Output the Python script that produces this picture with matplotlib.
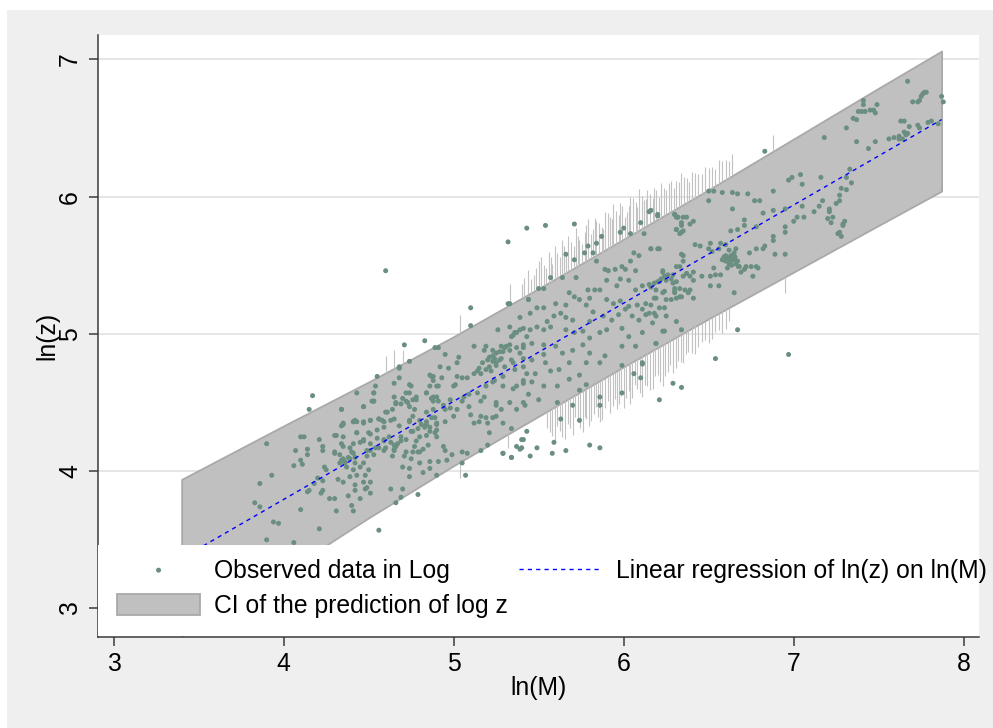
import numpy as np
import matplotlib.pyplot as plt
from matplotlib.patches import Rectangle

plt.rcParams['font.family'] = ['Liberation Sans', 'DejaVu Sans']

# observed points (ln M, ln z)
obs_left = [
    (4.17, 4.55), (4.15, 4.45), (3.90, 4.20), (3.93, 3.97), (3.86, 3.91), (3.83, 3.77), (3.86, 3.74), (3.94, 3.63),
    (3.97, 3.62), (3.90, 3.50), (4.06, 3.48), (4.21, 3.58), (4.10, 3.72), (4.07, 4.15), (4.10, 4.25), (4.12, 4.25),
    (4.14, 4.16), (4.14, 4.12), (4.10, 4.08), (4.11, 4.05), (4.06, 4.04), (4.21, 4.23), (4.23, 4.18), (4.23, 4.15),
    (4.24, 4.03), (4.25, 4.01), (4.20, 3.95), (4.23, 3.93), (4.18, 3.91), (4.14, 3.85), (4.15, 3.86), (4.23, 3.86),
    (4.22, 3.84), (4.27, 3.80), (4.30, 3.80), (4.31, 3.71), (4.34, 4.45), (4.34, 4.33), (4.35, 4.35), (4.41, 4.36),
    (4.43, 4.36), (4.47, 4.36), (4.51, 4.37), (4.43, 4.57), (4.47, 4.47), (4.53, 4.51), (4.53, 4.57), (4.54, 4.62),
    (4.56, 4.38), (4.31, 4.26), (4.35, 4.25), (4.34, 4.20), (4.43, 4.28), (4.50, 4.28), (4.47, 4.23), (4.45, 4.21),
    (4.51, 4.20), (4.30, 4.14), (4.33, 4.12), (4.39, 4.17), (4.41, 4.13), (4.42, 4.10), (4.38, 4.10), (4.35, 4.09),
    (4.33, 4.06), (4.36, 4.07), (4.37, 4.03), (4.41, 4.01), (4.45, 4.03), (4.47, 4.06), (4.49, 4.11), (4.53, 4.12),
    (4.56, 4.17), (4.51, 4.15), (4.50, 4.01), (4.48, 3.97), (4.43, 3.97), (4.39, 3.96), (4.32, 3.94), (4.35, 3.92),
    (4.42, 3.90), (4.47, 3.92), (4.51, 3.92), (4.49, 3.88), (4.51, 3.84), (4.48, 3.87), (4.42, 3.86), (4.45, 3.80),
    (4.38, 3.82), (4.40, 3.75), (4.41, 3.71), (4.56, 3.57),
]

obs_mid_left = [
    (4.71, 4.92), (4.83, 4.95), (4.74, 4.80), (4.68, 4.76), (4.68, 4.68), (4.65, 4.64), (4.74, 4.63), (4.87, 4.69),
    (4.79, 3.83), (4.66, 3.77), (4.63, 3.87), (4.70, 3.87), (4.69, 3.81), (4.74, 3.96), (4.70, 4.03), (4.74, 4.02),
    (4.71, 4.11), (4.79, 4.14), (4.82, 3.99), (4.86, 4.02), (4.90, 3.97), (4.75, 4.09), (4.72, 4.14), (4.65, 4.16),
    (4.63, 4.21), (4.66, 4.18), (4.67, 4.20), (4.59, 4.23), (4.60, 4.17), (4.69, 4.25), (4.76, 4.29), (4.79, 4.31),
    (4.83, 4.32), (4.86, 4.32), (4.74, 4.37), (4.76, 4.40), (4.80, 4.37), (4.84, 4.43), (4.88, 4.45), (4.77, 4.45),
    (4.74, 4.47), (4.73, 4.50), (4.76, 4.52), (4.78, 4.54), (4.70, 4.53), (4.66, 4.50), (4.72, 4.57), (4.84, 4.57),
    (4.87, 4.53), (4.88, 4.51), (4.90, 4.54), (4.86, 4.70), (4.88, 4.66), (4.91, 4.62), (4.87, 4.39), (4.90, 4.34),
    (4.89, 4.28), (4.84, 4.26), (4.80, 4.25), (4.85, 4.19), (4.90, 4.25), (4.86, 4.07), (4.80, 4.06), (4.82, 4.16),
    (4.77, 4.18), (4.52, 4.51), (4.61, 4.43), (4.63, 4.37), (4.58, 4.37), (4.59, 4.32), (4.55, 4.30),
]

obs_mid = [
    (4.60, 5.46), (5.10, 5.19), (5.10, 5.06), (5.33, 5.22), (5.44, 5.25), (4.55, 4.69), (4.68, 4.75), (4.89, 4.90),
    (4.91, 4.90), (4.95, 4.85), (5.12, 4.91), (5.18, 4.88), (5.19, 4.91), (5.23, 4.88), (5.25, 4.86), (5.21, 4.83),
    (5.24, 4.82), (5.27, 4.81), (5.23, 4.80), (5.20, 4.81), (5.17, 4.79), (5.15, 4.75), (5.12, 4.71), (5.14, 4.73),
    (5.16, 4.71), (5.19, 4.74), (5.21, 4.76), (5.25, 4.77), (5.29, 4.87), (5.30, 4.90), (5.33, 4.92), (5.37, 4.90),
    (5.41, 4.90), (5.36, 5.01), (5.39, 5.03), (5.41, 5.04), (5.35, 4.99), (5.26, 5.03), (5.28, 4.91), (5.34, 4.81),
    (5.41, 4.82), (5.36, 4.74), (5.43, 4.71), (5.41, 4.66), (5.37, 4.62), (5.29, 4.69), (5.24, 4.66), (5.19, 4.62),
    (5.18, 4.54), (5.25, 4.48), (5.28, 4.45), (5.25, 4.40), (5.23, 4.39), (5.20, 4.35), (5.19, 4.39), (5.16, 4.40),
    (5.15, 4.36), (5.10, 4.41), (5.09, 4.47), (5.14, 4.57), (5.08, 4.68), (5.05, 4.68), (5.02, 4.69), (5.01, 4.63),
    (5.00, 4.62), (5.03, 4.83), (5.02, 4.79), (4.97, 4.75), (4.92, 4.76), (4.88, 4.69), (4.93, 4.68), (4.90, 4.62),
    (4.86, 4.62), (4.84, 4.57), (4.88, 4.54), (4.91, 4.51), (4.94, 4.48), (4.95, 4.45), (4.98, 4.46), (5.02, 4.45),
    (5.00, 4.40), (5.05, 4.51), (4.98, 4.52), (4.87, 4.53), (4.75, 4.62), (4.74, 4.57), (4.78, 4.52), (4.72, 4.51),
    (4.69, 4.49), (4.66, 4.49), (4.64, 4.45), (4.65, 4.54), (4.53, 4.57), (4.47, 4.47), (4.53, 4.51), (4.60, 4.43),
    (4.34, 4.45), (4.30, 4.26), (4.35, 4.34), (4.41, 4.36), (4.42, 4.37), (4.47, 4.35), (4.51, 4.37), (4.56, 4.38),
    (4.59, 4.36), (4.65, 4.38), (4.68, 4.33), (4.74, 4.36), (4.75, 4.29), (4.81, 4.34), (4.84, 4.36), (4.90, 4.35),
    (4.86, 4.29), (4.90, 4.30), (4.89, 4.39), (4.95, 4.36), (4.43, 4.28), (4.51, 4.27), (4.55, 4.24), (4.62, 4.25),
    (4.59, 4.22), (4.65, 4.19), (4.65, 4.15), (4.69, 4.22), (4.72, 4.23), (4.78, 4.22), (4.76, 4.14), (4.80, 4.14),
    (4.64, 4.11), (4.47, 4.22), (4.41, 4.20), (4.35, 4.18), (4.40, 4.14), (4.30, 4.13), (4.34, 4.08), (4.39, 4.09),
    (4.42, 4.06), (4.36, 4.06), (4.49, 4.15), (4.54, 4.17), (4.59, 4.15), (4.94, 4.18), (4.95, 4.15), (4.99, 4.12),
    (5.05, 4.14), (5.08, 4.13), (4.96, 4.08), (4.91, 4.07), (4.84, 4.34), (5.12, 4.35), (5.21, 4.28), (5.29, 4.35),
    (5.34, 4.31), (5.37, 4.45), (5.42, 4.48), (5.44, 4.56), (5.43, 4.29), (5.40, 4.23), (5.40, 4.17), (5.45, 4.11),
    (5.34, 4.10), (5.29, 4.13), (5.20, 4.19), (5.16, 4.15), (5.06, 4.54), (5.09, 4.56), (5.16, 4.51),
]

obs_mid_right = [
    (5.32, 5.67), (5.43, 5.77), (5.54, 5.79), (5.71, 5.80), (5.32, 5.22), (5.57, 5.41), (5.50, 5.33), (6.15, 5.89),
    (6.20, 5.86), (6.30, 5.87), (6.32, 5.85), (6.34, 5.81), (6.10, 5.81), (5.98, 5.74), (6.00, 5.77), (6.04, 5.73),
    (6.12, 5.73), (6.31, 5.76), (6.34, 5.74), (5.87, 5.71), (5.79, 5.64), (5.84, 5.66), (5.82, 5.59), (5.77, 5.59),
    (5.66, 5.58), (6.16, 5.62), (6.20, 5.62), (6.06, 5.59), (6.09, 5.57), (6.34, 5.58), (5.71, 5.54), (5.84, 5.53),
    (5.89, 5.47), (5.91, 5.46), (5.95, 5.47), (5.99, 5.49), (6.04, 5.53), (6.07, 5.46), (6.23, 5.46), (6.29, 5.43),
    (6.35, 5.53), (6.37, 5.44), (6.01, 5.47), (5.79, 5.32), (5.64, 5.41), (5.72, 5.41), (5.53, 5.33), (5.90, 5.39),
    (5.98, 5.40), (6.03, 5.39), (6.11, 5.35), (6.15, 5.36), (6.21, 5.38), (6.25, 5.39), (6.31, 5.38), (6.36, 5.32),
    (6.30, 5.31), (5.68, 5.30), (5.71, 5.27), (5.74, 5.25), (5.86, 5.32), (5.83, 5.32), (5.96, 5.35), (6.07, 5.32),
    (5.44, 5.25), (5.80, 5.26), (5.78, 5.21), (5.66, 5.21), (5.60, 5.22), (5.53, 5.19), (5.49, 5.19), (5.90, 5.25),
    (5.94, 5.22), (5.98, 5.24), (6.03, 5.20), (6.08, 5.21), (6.13, 5.22), (6.19, 5.26), (6.23, 5.30), (6.28, 5.25),
    (6.33, 5.27), (6.38, 5.30), (6.11, 5.18), (6.15, 5.15), (6.21, 5.19), (5.63, 5.15), (5.66, 5.12), (5.70, 5.10),
    (5.59, 5.13), (5.55, 5.09), (5.45, 5.15), (5.39, 5.12), (5.82, 5.16), (5.88, 5.13), (5.93, 5.10), (5.97, 5.14),
    (6.01, 5.18), (6.05, 5.13), (6.09, 5.10), (6.13, 5.14), (6.17, 5.08), (6.25, 5.13), (6.31, 5.09), (5.80, 5.09),
    (5.57, 5.05), (5.53, 5.03), (5.49, 5.05), (5.45, 5.03), (5.43, 4.98), (5.37, 5.01), (5.34, 4.98), (5.33, 5.05),
    (5.66, 5.03), (5.71, 5.01), (5.76, 5.02), (5.86, 5.01), (5.80, 4.97), (5.90, 5.03), (5.99, 5.04), (6.03, 4.98),
    (6.11, 5.01), (6.23, 5.02), (6.34, 5.03), (5.31, 4.91), (5.27, 4.87), (5.23, 4.84), (5.28, 4.82), (5.33, 4.88),
    (5.41, 4.92), (5.46, 4.93), (5.53, 4.92), (5.60, 4.91), (5.64, 4.86), (5.70, 4.88), (5.76, 4.92), (5.80, 4.86),
    (5.89, 4.84), (5.99, 4.91), (6.07, 4.91), (6.19, 4.93), (5.53, 4.85), (5.39, 4.86), (5.22, 4.73), (5.25, 4.79),
    (5.30, 4.76), (5.35, 4.79), (5.41, 4.76), (5.46, 4.81), (5.48, 4.71), (5.54, 4.79), (5.62, 4.74), (5.68, 4.79),
    (5.78, 4.79), (5.86, 4.79), (5.99, 4.77), (6.06, 4.71), (6.11, 4.79), (5.74, 4.70), (5.57, 4.73), (5.23, 4.65),
    (5.29, 4.62), (5.35, 4.60), (5.41, 4.64), (5.46, 4.65), (5.53, 4.62), (5.61, 4.62), (5.68, 4.67), (5.74, 4.59),
    (5.78, 4.63), (5.86, 4.54), (5.99, 4.57), (6.21, 4.52), (6.29, 4.64), (6.34, 4.61), (5.25, 4.50), (5.33, 4.50),
    (5.41, 4.50), (5.50, 4.52), (5.61, 4.50), (5.70, 4.48), (5.86, 4.48), (6.10, 4.68), (5.80, 4.19), (5.86, 4.17),
    (5.66, 4.15), (5.58, 4.13), (5.59, 4.21), (5.74, 4.37), (5.63, 4.38), (5.49, 4.17), (5.37, 4.18), (5.39, 4.16),
    (5.34, 4.10), (5.29, 4.13), (5.41, 4.23), (5.07, 3.97), (5.05, 4.06), (6.11, 4.78),
]

obs_right = [
    (6.83, 6.33), (6.97, 6.12), (6.99, 6.14), (7.04, 6.16), (7.05, 6.09), (6.88, 6.04), (6.50, 6.04), (6.53, 6.04),
    (6.58, 6.03), (6.64, 6.03), (6.67, 6.02), (6.73, 6.02), (6.50, 5.97), (6.77, 5.97), (6.80, 5.97), (6.64, 5.91),
    (6.82, 5.88), (6.88, 5.90), (6.95, 5.91), (7.02, 5.85), (7.00, 5.82), (6.30, 5.87), (6.31, 5.85), (6.35, 5.85),
    (6.37, 5.85), (6.41, 5.82), (6.39, 5.80), (6.34, 5.79), (6.31, 5.76), (6.33, 5.73), (6.35, 5.75), (6.20, 5.87),
    (6.16, 5.90), (6.71, 5.83), (6.71, 5.79), (6.63, 5.75), (6.67, 5.76), (6.78, 5.78), (6.88, 5.71), (6.88, 5.68),
    (6.95, 5.78), (6.95, 5.74), (6.42, 5.65), (6.45, 5.64), (6.51, 5.66), (6.50, 5.62), (6.52, 5.60), (6.57, 5.66),
    (6.56, 5.62), (6.60, 5.65), (6.62, 5.61), (6.66, 5.62), (6.78, 5.62), (6.82, 5.62), (6.83, 5.64), (6.74, 5.59),
    (6.89, 5.58), (6.95, 5.58), (6.59, 5.56), (6.61, 5.55), (6.63, 5.57), (6.65, 5.54), (6.67, 5.53), (6.60, 5.53),
    (6.62, 5.51), (6.635, 5.50), (6.655, 5.56), (6.58, 5.54), (6.675, 5.49), (6.61, 5.48), (6.63, 5.53), (6.65, 5.59),
    (6.64, 5.55), (6.62, 5.545), (6.60, 5.57), (6.66, 5.51), (6.68, 5.49), (6.69, 5.45), (6.71, 5.47), (6.72, 5.49),
    (6.75, 5.49), (6.78, 5.49), (6.79, 5.48), (6.76, 5.42), (6.53, 5.48), (6.54, 5.43), (6.57, 5.43), (6.51, 5.42),
    (6.46, 5.42), (6.41, 5.45), (6.41, 5.39), (6.37, 5.44), (6.35, 5.42), (6.39, 5.42), (6.31, 5.49), (6.35, 5.57),
    (6.33, 5.49), (6.16, 5.62), (6.21, 5.62), (6.23, 5.45), (6.24, 5.42), (6.22, 5.40), (6.20, 5.38), (6.18, 5.37),
    (6.26, 5.43), (6.28, 5.40), (6.29, 5.37), (6.16, 5.34), (6.19, 5.32), (6.24, 5.31), (6.30, 5.33), (6.33, 5.33),
    (6.39, 5.32), (6.41, 5.26), (6.34, 5.27), (6.30, 5.30), (6.18, 5.26), (6.25, 5.25), (6.31, 5.26), (6.51, 5.35),
    (6.56, 5.35), (6.65, 5.30), (6.16, 5.21), (6.18, 5.15), (6.19, 5.13), (6.24, 5.19), (6.24, 5.02), (6.67, 5.03),
    (6.19, 4.93), (6.54, 4.82), (6.97, 4.85),
]

obs_top = [
    (7.67, 6.84), (7.77, 6.76), (7.76, 6.75), (7.75, 6.73), (7.74, 6.70), (7.73, 6.69), (7.70, 6.69), (7.78, 6.76),
    (7.87, 6.73), (7.88, 6.69), (7.41, 6.70), (7.41, 6.67), (7.49, 6.67), (7.38, 6.62), (7.40, 6.62), (7.42, 6.62),
    (7.45, 6.63), (7.47, 6.63), (7.48, 6.61), (7.35, 6.57), (7.37, 6.56), (7.31, 6.50), (7.18, 6.43), (7.37, 6.40),
    (7.48, 6.40), (7.44, 6.35), (7.56, 6.42), (7.59, 6.43), (7.62, 6.42), (7.64, 6.42), (7.65, 6.47), (7.66, 6.45),
    (7.67, 6.46), (7.63, 6.55), (7.65, 6.55), (7.62, 6.44), (7.68, 6.51), (7.73, 6.52), (7.74, 6.50), (7.79, 6.54),
    (7.81, 6.55), (7.85, 6.53), (7.33, 6.20), (7.16, 6.14), (7.31, 6.14), (7.31, 6.05), (7.34, 6.10), (7.28, 6.06),
    (7.27, 6.01), (7.27, 5.97), (7.25, 5.95), (7.17, 5.97), (7.15, 5.93), (7.12, 5.89), (7.06, 5.85), (7.05, 5.93),
    (7.21, 5.91), (7.21, 5.89), (7.20, 5.84), (7.23, 5.85), (7.22, 5.81), (7.30, 5.82), (7.29, 5.80), (7.29, 5.79),
    (7.27, 5.74), (7.26, 5.73), (7.28, 5.71),
]

# fitted line and prediction band
reg_x = [3.40, 7.87]
reg_y = [3.365, 6.561]
ci_x = [3.40, 4.00, 4.50, 5.00, 5.50, 6.00, 6.50, 7.00, 7.50, 7.87]
ci_upper = [3.94, 4.33, 4.65, 4.98, 5.33, 5.69, 6.05, 6.42, 6.79, 7.06]
ci_lower = [2.80, 3.26, 3.66, 4.04, 4.40, 4.76, 5.11, 5.45, 5.79, 6.04]

# ragged streaks on the band edges (position, length beyond the edge)
spike_up_x = [4.60, 4.65, 4.70, 5.04, 5.33, 5.40, 5.44, 5.47, 5.50, 5.53, 5.56, 5.58, 5.61, 5.64, 5.66, 5.69,
              5.72, 5.74, 5.77, 5.79, 5.82, 5.84, 5.87, 5.89, 5.92, 5.94, 5.97, 5.99, 6.02, 6.04, 6.07, 6.09,
              6.12, 6.14, 6.17, 6.19, 6.22, 6.25, 6.28, 6.31, 6.34, 6.37, 6.40, 6.44, 6.48, 6.52, 6.56, 6.60,
              6.64, 6.88,
              5.415, 5.455, 5.485, 5.515, 5.545, 5.57, 5.595, 5.625, 5.65, 5.675, 5.705, 5.73, 5.755, 5.78,
              5.805, 5.83, 5.855, 5.88, 5.905, 5.93, 5.955, 5.98, 6.005, 6.03, 6.055, 6.08, 6.105, 6.13,
              6.155, 6.18, 6.205, 6.235, 6.265, 6.295, 6.325, 6.355, 6.385, 6.42, 6.46, 6.50, 6.54, 6.58,
              6.62]
spike_up_h = [0.12, 0.13, 0.10, 0.13, 0.15, 0.10, 0.18, 0.12, 0.20, 0.15, 0.22, 0.12, 0.18, 0.25, 0.15, 0.20,
              0.28, 0.18, 0.22, 0.30, 0.20, 0.25, 0.18, 0.28, 0.22, 0.30, 0.20, 0.25, 0.18, 0.28, 0.22, 0.30,
              0.20, 0.26, 0.18, 0.22, 0.25, 0.18, 0.22, 0.20, 0.24, 0.18, 0.20, 0.16, 0.18, 0.15, 0.17, 0.14,
              0.16, 0.12,
              0.14, 0.10, 0.16, 0.22, 0.12, 0.18, 0.24, 0.14, 0.20, 0.26, 0.16, 0.22, 0.14, 0.26,
              0.18, 0.28, 0.22, 0.16, 0.26, 0.20, 0.24, 0.28, 0.16, 0.22, 0.26, 0.18, 0.24, 0.20,
              0.22, 0.24, 0.16, 0.20, 0.22, 0.16, 0.18, 0.20, 0.14, 0.18, 0.14, 0.16, 0.12, 0.15,
              0.12]
spike_dn_x = [5.04, 5.32, 5.55, 5.58, 5.61, 5.64, 5.67, 5.70, 5.73, 5.76, 5.78, 5.81, 5.84, 5.86, 5.89, 5.92,
              5.95, 5.97, 6.00, 6.03, 6.05, 6.08, 6.11, 6.14, 6.17, 6.20, 6.23, 6.26, 6.29, 6.32, 6.35, 6.38,
              6.42, 6.46, 6.50, 6.54, 6.58, 6.62, 6.95,
              5.565, 5.595, 5.625, 5.655, 5.685, 5.715, 5.745, 5.77, 5.795, 5.825, 5.85, 5.875, 5.905, 5.935,
              5.96, 5.985, 6.015, 6.04, 6.065, 6.095, 6.125, 6.155, 6.185, 6.215, 6.245, 6.275, 6.305, 6.335,
              6.365, 6.40, 6.44, 6.48, 6.52, 6.56, 6.60]
spike_dn_h = [0.12, 0.10, 0.12, 0.20, 0.15, 0.25, 0.18, 0.28, 0.20, 0.30, 0.22, 0.26, 0.18, 0.30, 0.22, 0.28,
              0.20, 0.25, 0.30, 0.20, 0.26, 0.22, 0.30, 0.24, 0.28, 0.20, 0.30, 0.22, 0.25, 0.18, 0.22, 0.16,
              0.20, 0.14, 0.18, 0.12, 0.16, 0.10, 0.12,
              0.16, 0.24, 0.20, 0.28, 0.22, 0.16, 0.26, 0.20, 0.28, 0.22, 0.26, 0.30, 0.18, 0.24,
              0.28, 0.20, 0.24, 0.30, 0.18, 0.26, 0.22, 0.28, 0.20, 0.26, 0.24, 0.18, 0.22, 0.20,
              0.16, 0.18, 0.16, 0.14, 0.16, 0.12, 0.14]

points = obs_left + obs_mid_left + obs_mid + obs_mid_right + obs_right + obs_top
lnM = [p[0] for p in points]
lnz = [p[1] for p in points]

fs = 17.8

fig = plt.figure(figsize=(9.93, 7.28), dpi=100, facecolor='white')
fig.patches.append(Rectangle((7 / 993, 0), 1, 1 - 10 / 728, transform=fig.transFigure,
                             facecolor='#efefef', edgecolor='none', zorder=-10))
ax = fig.add_axes([98 / 993, 91 / 728, 881 / 993, 602 / 728])

band = ax.fill_between(ci_x, ci_lower, ci_upper, facecolor='#c0c0c0', edgecolor='#a9a9a9',
                       linewidth=1.3, zorder=2, label='CI of the prediction of log z')
up_base = np.interp(spike_up_x, ci_x, ci_upper)
ax.vlines(spike_up_x, up_base, up_base + np.array(spike_up_h), color='#c2c2c2', lw=0.8, zorder=2)
dn_base = np.interp(spike_dn_x, ci_x, ci_lower)
ax.vlines(spike_dn_x, dn_base - np.array(spike_dn_h), dn_base, color='#c2c2c2', lw=0.8, zorder=2)

pts = ax.scatter(lnM, lnz, s=13, color='#6a8e80', edgecolors='none', zorder=3,
                 label='Observed data in Log')
line, = ax.plot(reg_x, reg_y, color='#0000ff', lw=1.0, linestyle=(0, (3, 3)), zorder=4,
                label='Linear regression of ln(z) on ln(M)')

ax.set_xlim(2.908, 8.090)
ax.set_ylim(2.792, 7.177)
ax.set_xticks([3, 4, 5, 6, 7, 8])
ax.set_yticks([3, 4, 5, 6, 7])
ax.yaxis.grid(True, color='#e6e6e6', lw=1.4)
ax.set_axisbelow(True)

for side in ['top', 'right']:
    ax.spines[side].set_visible(False)
for side in ['left', 'bottom']:
    ax.spines[side].set_color('#3a3a3a')
    ax.spines[side].set_linewidth(1.1)
ax.tick_params(direction='out', length=6.5, width=1.1, color='#3a3a3a', labelsize=fs)
ax.tick_params(axis='x', pad=4.5)
ax.tick_params(axis='y', pad=5, labelrotation=90)
for lab in ax.get_yticklabels():
    lab.set_va('center')

ax.set_xlabel('ln(M)', fontsize=fs)
ax.set_ylabel('ln(z)', fontsize=fs)
ax.xaxis.set_label_coords(0.5, -0.064)
ax.yaxis.set_label_coords(-0.044, 0.5)

# white legend area inside the plot region
ax.add_patch(Rectangle((0, 0.002), 1, 0.151, transform=ax.transAxes, facecolor='white',
                       edgecolor='none', zorder=5))
leg = ax.legend([pts, band, line],
                ['Observed data in Log', 'CI of the prediction of log z', 'Linear regression of ln(z) on ln(M)'],
                ncol=2, loc='upper left', bbox_to_anchor=(117 / 993, 1 - 559 / 728),
                bbox_transform=fig.transFigure, frameon=False, fontsize=fs, scatterpoints=1,
                handlelength=3.36, handleheight=0.95, handletextpad=0.57, columnspacing=0.45,
                labelspacing=0.42, borderpad=0, borderaxespad=0)
leg.set_zorder(10)

fig.savefig('out.png', dpi=100, facecolor=fig.get_facecolor())
plt.close(fig)
